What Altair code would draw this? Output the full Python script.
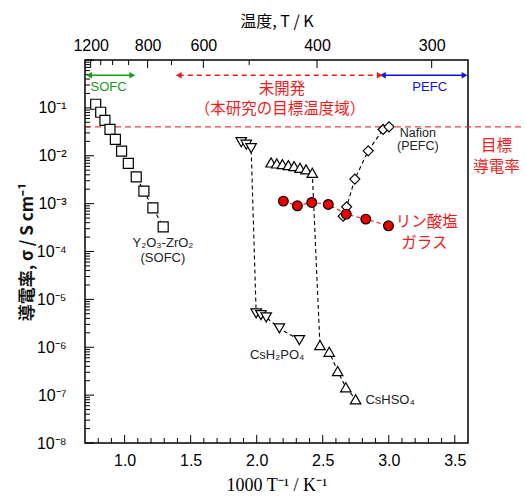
import altair as alt
import pandas as pd

# ---- measured series: 1000/T (K^-1) and conductivity sigma (S/cm) ----
ysz_x = [0.781, 0.819, 0.851, 0.889, 0.930, 0.977, 1.028, 1.088, 1.146, 1.214, 1.292]
ysz_s = [0.119, 0.081, 0.055, 0.0354, 0.0219, 0.0125, 0.0069, 0.00363, 0.00182, 0.000817, 0.000328]

cdp_x = [1.883, 1.921, 1.958, 1.996, 2.032, 2.072, 2.172, 2.323]
cdp_s = [0.0192, 0.0170, 0.0144, 5.1e-6, 4.7e-6, 4.2e-6, 2.48e-6, 1.41e-6]

chs_x = [2.109, 2.152, 2.195, 2.240, 2.283, 2.328, 2.374, 2.421,
         2.479, 2.549, 2.613, 2.675, 2.749]
chs_s = [0.00724, 0.00690, 0.00668, 0.00637, 0.00607, 0.00559, 0.00518, 0.00440,
         1.11e-6, 8.05e-7, 3.18e-7, 1.46e-7, 8.17e-8]

glass_x = [2.202, 2.308, 2.417, 2.542, 2.678, 2.826, 2.998]
glass_s = [0.001127, 0.00090, 0.00106, 0.000962, 0.000604, 0.000475, 0.000344]

naf_x = [2.655, 2.681, 2.743, 2.844, 2.957, 3.002]
naf_s = [0.000548, 0.000857, 0.00325, 0.01265, 0.0354, 0.0401]

# target conductivity
target_sigma = 0.04

# ---- axis ticks ----
left_major = [10.0 ** e for e in range(-8, 1)]
left_minor = [m * 10.0 ** e for e in range(-8, 0) for m in range(2, 10)]
bottom_major = [1.0, 1.5, 2.0, 2.5, 3.0, 3.5]
bottom_minor = [0.8, 0.9, 1.1, 1.2, 1.3, 1.4, 1.6, 1.7, 1.8, 1.9, 2.1, 2.2, 2.3, 2.4,
                2.6, 2.7, 2.8, 2.9, 3.1, 3.2, 3.3, 3.4]
top_pos = [0.743, 1.174, 1.596, 2.457, 3.325]
top_lab = ["1200", "800", "600", "400", "300"]
top_minor = [0.819, 0.909, 1.030, 1.355, 1.943]

# ---- temperature range arrows ----
arrow_x1 = [0.731, 2.955]
arrow_x2 = [1.058, 3.574]
arrow_col = ["#1a9a1a", "#1010ee"]
dev_x1 = [1.41]
dev_x2 = [2.932]
arrow_sigma = 0.48

RED = "#ee1c1c"
SANS = "Liberation Sans, Noto Sans CJK JP"
CJK = "Noto Sans CJK JP, Liberation Sans"

xs = alt.Scale(domain=[0.7, 3.6], nice=False, zero=False)
ys = alt.Scale(type="log", domain=[1e-8, 1], nice=False)


def series(xv, sv, shape, fill, line_color, size):
    df = pd.DataFrame({"x": xv, "s": sv})
    base = alt.Chart(df).encode(
        x=alt.X("x:Q", scale=xs, axis=None),
        y=alt.Y("s:Q", scale=ys, axis=None),
    )
    line = base.mark_line(color=line_color, strokeDash=[4, 3], strokeWidth=1.1)
    pts = base.mark_point(shape=shape, filled=True, fill=fill, stroke="black",
                          strokeWidth=1.2, size=size, opacity=1)
    return [line, pts]


def label(texts, xv, sv, color, size, font, **kw):
    df = pd.DataFrame({"x": xv, "s": sv, "t": texts})
    return alt.Chart(df).mark_text(color=color, fontSize=size, font=font, **kw).encode(
        x=alt.X("x:Q", scale=xs, axis=None),
        y=alt.Y("s:Q", scale=ys, axis=None),
        text="t:N",
    )


# axes (labels and titles only; tick marks are drawn as rules pointing inward)
sup = "['⁰','¹','²','³','⁴','⁵','⁶','⁷','⁸','⁹']"
left_axis = alt.Axis(
    values=left_major[:-1], ticks=False, tickSize=0, domain=False, grid=False,
    labelExpr="'10⁻' + " + sup + "[-round(log(datum.value)/LN10)]",
    labelFont=SANS, labelFontSize=16, labelPadding=19, labelColor="black",
    labelOverlap=False,
    title="導電率, σ / S cm⁻¹", titleFont=CJK, titleFontSize=17,
    titleFontWeight="bold", titlePadding=0, titleColor="#111111",
)
bottom_axis = alt.Axis(
    values=bottom_major, ticks=False, tickSize=0, domain=False, grid=False,
    format=".1f", labelFont=SANS, labelFontSize=16, labelPadding=9, labelColor="black",
    title="1000 T⁻¹ / K⁻¹", titleFont="Liberation Serif", titleFontSize=18,
    titleFontWeight="normal", titlePadding=8, titleColor="black",
)
mids = [(a + b) / 2 for a, b in zip(top_pos[:-1], top_pos[1:])]
top_expr = "'" + top_lab[-1] + "'"
for m, lab in reversed(list(zip(mids, top_lab[:-1]))):
    top_expr = f"datum.value < {m:.4f} ? '{lab}' : ({top_expr})"
top_axis = alt.Axis(
    orient="top", values=top_pos, ticks=False, tickSize=0, domain=False, grid=False,
    labelExpr=top_expr, labelFont=SANS, labelFontSize=16, labelPadding=7,
    labelColor="black", labelOverlap=False,
    title="温度, T / K", titleFont=CJK, titleFontSize=16,
    titleFontWeight="normal", titlePadding=8, titleColor="black",
)

anchor = pd.DataFrame({"x": ysz_x, "s": ysz_s})
axes_layer = alt.Chart(anchor).mark_point(opacity=0).encode(
    x=alt.X("x:Q", scale=xs, axis=bottom_axis),
    y=alt.Y("s:Q", scale=ys, axis=left_axis),
)
top_layer = alt.Chart(anchor).mark_point(opacity=0).encode(
    x=alt.X("x:Q", scale=xs, axis=top_axis),
    y=alt.Y("s:Q", scale=ys, axis=None),
)


def yticks(vals, length):
    return alt.Chart(pd.DataFrame({"v": vals})).mark_rule(color="black", strokeWidth=1).encode(
        y=alt.Y("v:Q", scale=ys, axis=None), x=alt.value(0), x2=alt.value(length))


def xticks(vals, y0, y1):
    return alt.Chart(pd.DataFrame({"v": vals})).mark_rule(color="black", strokeWidth=1).encode(
        x=alt.X("v:Q", scale=xs, axis=None), y=alt.value(y0), y2=alt.value(y1))


H = 383
tick_layers = [
    yticks(left_major, 9), yticks(left_minor, 5),
    xticks(bottom_major, H, H - 8), xticks(bottom_minor, H, H - 5),
    xticks(top_pos, 0, 8), xticks(top_minor, 0, 5),
]

# target conductivity line (extends past the frame to the right-hand label)
target = alt.Chart(pd.DataFrame({"x1": [0.7], "x2": [4.03], "s": [target_sigma]})).mark_rule(
    color=RED, strokeDash=[6, 4], strokeWidth=1.2, opacity=0.85
).encode(x=alt.X("x1:Q", scale=xs, axis=None), x2="x2:Q", y=alt.Y("s:Q", scale=ys, axis=None))

arr_df = pd.DataFrame({"x1": arrow_x1, "x2": arrow_x2, "c": arrow_col, "s": [arrow_sigma] * 2})
arr_lines = alt.Chart(arr_df).mark_rule(strokeWidth=1.3).encode(
    x=alt.X("x1:Q", scale=xs, axis=None), x2="x2:Q",
    y=alt.Y("s:Q", scale=ys, axis=None), color=alt.Color("c:N", scale=None))
arr_l = alt.Chart(arr_df).mark_point(shape="triangle-left", filled=True, size=45, opacity=1).encode(
    x=alt.X("x1:Q", scale=xs, axis=None), y=alt.Y("s:Q", scale=ys, axis=None),
    color=alt.Color("c:N", scale=None))
arr_r = alt.Chart(arr_df).mark_point(shape="triangle-right", filled=True, size=45, opacity=1).encode(
    x=alt.X("x2:Q", scale=xs, axis=None), y=alt.Y("s:Q", scale=ys, axis=None),
    color=alt.Color("c:N", scale=None))

dev_df = pd.DataFrame({"x1": dev_x1, "x2": dev_x2, "s": [arrow_sigma]})
dev_line = alt.Chart(dev_df).mark_rule(strokeWidth=1.3, color=RED, strokeDash=[5, 4]).encode(
    x=alt.X("x1:Q", scale=xs, axis=None), x2="x2:Q", y=alt.Y("s:Q", scale=ys, axis=None))
dev_l = alt.Chart(dev_df).mark_point(shape="triangle-left", filled=True, size=45, opacity=1, color=RED).encode(
    x=alt.X("x1:Q", scale=xs, axis=None), y=alt.Y("s:Q", scale=ys, axis=None))
dev_r = alt.Chart(dev_df).mark_point(shape="triangle-right", filled=True, size=45, opacity=1, color=RED).encode(
    x=alt.X("x2:Q", scale=xs, axis=None), y=alt.Y("s:Q", scale=ys, axis=None))

layers = [axes_layer, top_layer] + tick_layers + [target, arr_lines, arr_l, arr_r,
                                                  dev_line, dev_l, dev_r]
layers += series(ysz_x, ysz_s, "square", "white", "black", 100)
layers += series(cdp_x, cdp_s, "triangle-down", "white", "black", 110)
layers += series(chs_x, chs_s, "triangle-up", "white", "black", 110)
layers += series(naf_x, naf_s, "diamond", "white", "black", 100)
layers += series(glass_x, glass_s, "circle", "#ee0000", RED, 95)

# annotations
layers += [
    label(["SOFC"], [0.879], [0.27], "#1a9a1a", 13, SANS),
    label(["PEFC"], [3.31], [0.27], "#1010ee", 13, SANS),
    label(["未開発", "（本研究の目標温度域）"], [2.192, 2.177], [0.25, 0.094], RED, 15.5, CJK),
    label(["目標", "導電率"], [3.815, 3.815], [0.0162, 0.0058], RED, 15.5, CJK),
    label(["リン酸塩", "ガラス"], [3.287, 3.27], [0.00041, 0.000148], RED, 15.5, CJK),
    label(["Y₂O₃-ZrO₂", "(SOFC)"], [1.29, 1.29], [0.000152, 0.0000740], "#222222", 13, SANS),
    label(["Nafion", "(PEFC)"], [3.22, 3.22], [0.0300, 0.0158], "#222222", 12.5, SANS),
    label(["CsH₂PO₄"], [2.155], [6.9e-7], "#222222", 13, SANS),
    label(["CsHSO₄"], [3.01], [8.0e-8], "#222222", 13, SANS),
]

chart = alt.layer(*layers).resolve_axis(x="independent", y="independent").properties(
    width=383, height=H,
    autosize=alt.AutoSizeParams(type="none"),
    padding={"left": 85, "top": 60, "right": 58, "bottom": 55},
).configure_view(stroke="black", strokeWidth=1.5).configure_axis(grid=False)

chart.save("out.html", embed_options={"renderer": "svg", "actions": False})
